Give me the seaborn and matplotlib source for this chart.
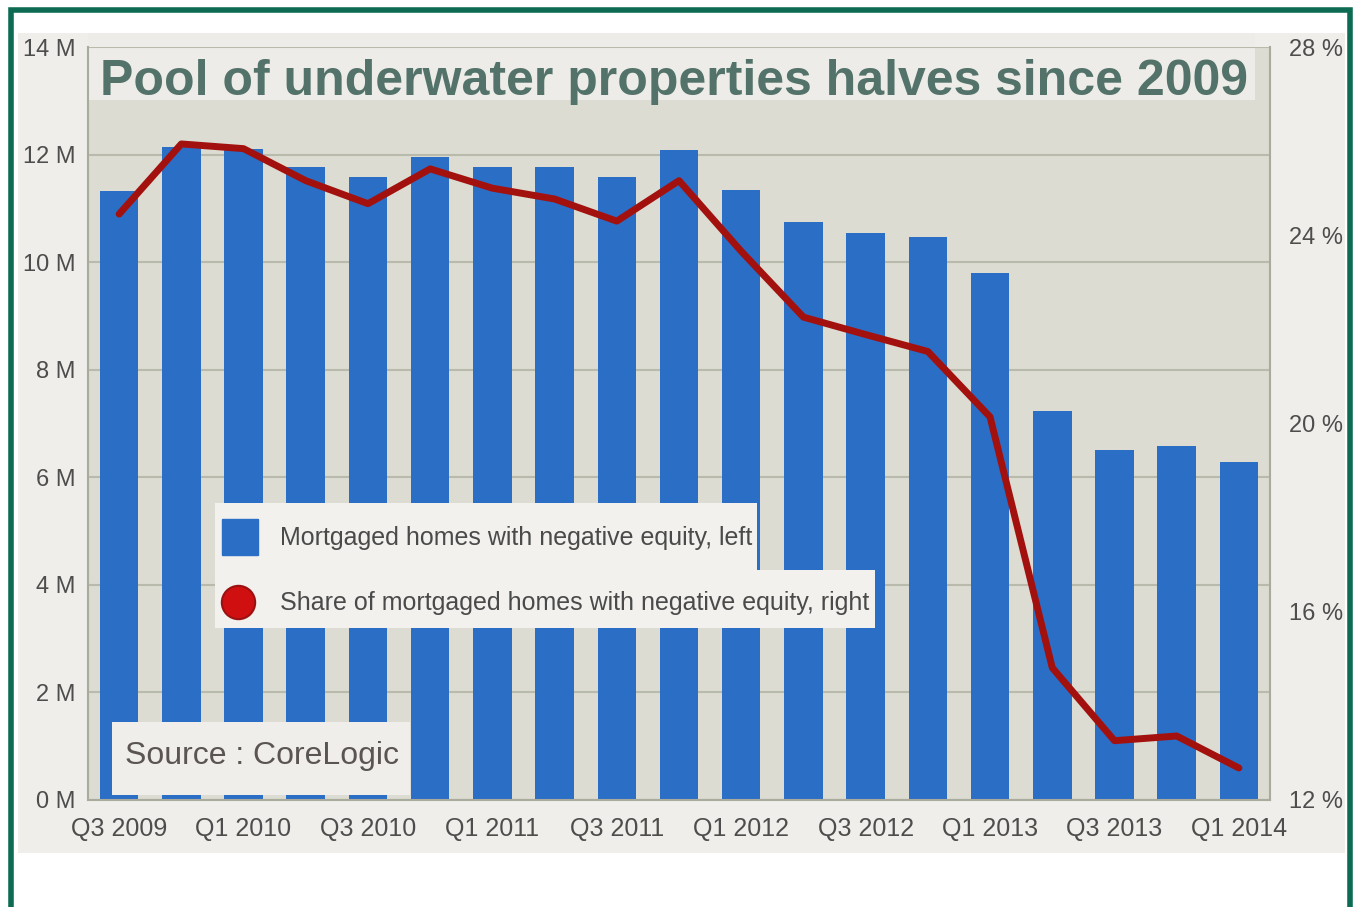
import matplotlib
matplotlib.use("Agg")
from matplotlib import pyplot as plt
from matplotlib.patches import Rectangle
from matplotlib.lines import Line2D
import seaborn as sns
import numpy as np
import pandas as pd

# data
quarters = ["Q3 2009", "Q4 2009",
            "Q1 2010", "Q2 2010", "Q3 2010", "Q4 2010",
            "Q1 2011", "Q2 2011", "Q3 2011", "Q4 2011",
            "Q1 2012", "Q2 2012", "Q3 2012", "Q4 2012",
            "Q1 2013", "Q2 2013", "Q3 2013", "Q4 2013",
            "Q1 2014"]
homes_m = [11.32, 12.15, 12.10, 11.77, 11.58, 11.95, 11.77, 11.77, 11.58, 12.08,
           11.34, 10.74, 10.54, 10.46, 9.80, 7.23, 6.51, 6.58, 6.28]
share_pct = [24.45, 25.94, 25.84, 25.16, 24.67, 25.41, 25.00, 24.77, 24.30, 25.16,
             23.66, 22.26, 21.89, 21.53, 20.14, 14.81, 13.26, 13.36, 12.68]
tick_labels = quarters[::2]
left_ticks = [0, 2, 4, 6, 8, 10, 12, 14]
right_ticks = [12, 16, 20, 24, 28]

sns.set_style("white")
plt.rcParams['font.family'] = ['Liberation Sans', 'DejaVu Sans']

W, H = 1356, 907
def fx(x):
    return x / W
def fy(y):
    return 1 - y / H

fig = plt.figure(figsize=(13.56, 9.07), dpi=100)
fig.patch.set_facecolor('white')

# light panel behind the chart + green frame
fig.add_artist(Rectangle((fx(18), fy(853)), fx(1345) - fx(18), fy(33) - fy(853),
                         transform=fig.transFigure, facecolor='#efeeea', edgecolor='none', zorder=-1))
fig.add_artist(Rectangle((fx(10.5), fy(925)), fx(1349.5) - fx(10.5), fy(10.5) - fy(925),
                         transform=fig.transFigure, fill=False, edgecolor='#0e6b53', linewidth=4, zorder=10))

ax = fig.add_axes([fx(88), fy(800), fx(1270) - fx(88), fy(47) - fy(800)])
ax.set_facecolor('#dcdcd2')

df = pd.DataFrame({'quarter': quarters, 'homes': homes_m})
sns.barplot(data=df, x='quarter', y='homes', color='#2b6ec6', saturation=1, width=0.62,
            linewidth=0, ax=ax)
ax.set_xlim(-0.5, 18.5)
ax.set_ylim(0, 14)
ax.set_yticks(left_ticks)
ax.set_yticklabels([f'{v} M' for v in left_ticks])
ax.set_xticks(range(0, len(quarters), 2))
ax.set_xticklabels(tick_labels)
ax.set_xlabel('')
ax.set_ylabel('')
ax.set_axisbelow(True)
ax.yaxis.grid(True, color='#b8baab', linewidth=1.5)
ax.tick_params(axis='y', length=0, pad=9, labelsize=17, labelcolor='#4d4d4d')
ax.tick_params(axis='x', length=0, pad=12, labelsize=18, labelcolor='#4d4d4d')
for s in ['left', 'bottom', 'right']:
    ax.spines[s].set_color('#a9ab9c')
    ax.spines[s].set_linewidth(1.5)
ax.spines['top'].set_visible(False)

# title strip
ax.add_patch(Rectangle((0, 1 - (100 - 47) / 753), (1255 - 88) / (1270 - 88), (100 - 33) / 753,
                       transform=ax.transAxes, clip_on=False, facecolor='#edece8',
                       edgecolor='none', zorder=0.5))
ax.text((100 - 88) / (1270 - 88), 1 - (82 - 47) / 753,
        'Pool of underwater properties halves since 2009', transform=ax.transAxes,
        fontsize=36, fontweight='bold', color='#537269', va='center', ha='left', zorder=3)

ax2 = ax.twinx()
sns.lineplot(x=np.arange(len(quarters)), y=share_pct, color='#a3110f', linewidth=5, ax=ax2)
ax2.set_ylim(12, 28)
ax2.set_yticks(right_ticks)
ax2.set_yticklabels([f'{v} %' for v in right_ticks])
ax2.tick_params(axis='y', length=0, pad=14, labelsize=17, labelcolor='#4d4d4d')
ax2.grid(False)
for s in ['left', 'bottom', 'right', 'top']:
    ax2.spines[s].set_visible(False)

# legend boxes
box_c = '#f2f1ee'
fig.add_artist(Rectangle((fx(215), fy(570)), fx(757) - fx(215), fy(503) - fy(570),
                         transform=fig.transFigure, facecolor=box_c, edgecolor='none', zorder=5))
fig.add_artist(Rectangle((fx(215), fy(628)), fx(875) - fx(215), fy(570) - fy(628),
                         transform=fig.transFigure, facecolor=box_c, edgecolor='none', zorder=5))
fig.add_artist(Line2D([fx(240)], [fy(537)], marker='s', markersize=26, color='#2b6ec6',
                      transform=fig.transFigure, zorder=6))
fig.add_artist(Line2D([fx(238)], [fy(602)], marker='o', markersize=24, color='#d01010',
                      markeredgecolor='#9b1010', markeredgewidth=1.5,
                      transform=fig.transFigure, zorder=6))
fig.text(fx(280), fy(538), 'Mortgaged homes with negative equity, left', fontsize=18,
         color='#4a4a4a', va='center', ha='left', zorder=7)
fig.text(fx(280), fy(603), 'Share of mortgaged homes with negative equity, right', fontsize=18,
         color='#4a4a4a', va='center', ha='left', zorder=7)

# source box
fig.add_artist(Rectangle((fx(112), fy(795)), fx(410) - fx(112), fy(722) - fy(795),
                         transform=fig.transFigure, facecolor='#efeeea', edgecolor='none', zorder=5))
fig.text(fx(262), fy(756), 'Source : CoreLogic', fontsize=23, color='#5a5552',
         va='center', ha='center', zorder=7)

plt.savefig('out.png', dpi=100)
